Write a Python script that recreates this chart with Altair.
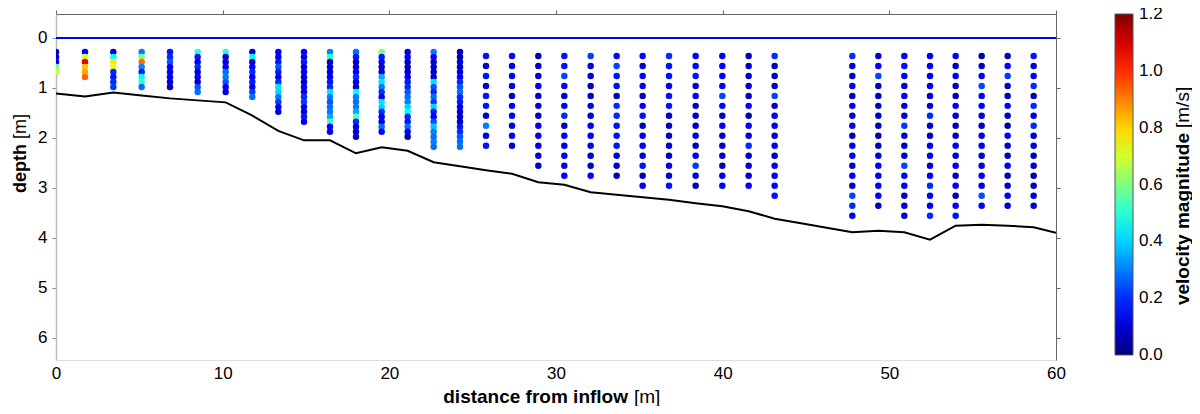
import altair as alt
import pandas as pd

# ---------------- data ----------------
# dense profiles (0.1 m vertical spacing, first bin at 0.28 m)
dense_x = [0.0, 1.74, 3.44, 5.14, 6.84, 8.5, 10.18, 11.78, 13.34, 14.88,
           16.44, 18.0, 19.54, 21.1, 22.66, 24.24]
dense_start, dense_step = 0.28, 0.1
dense_v = [
    [0.12, 0.10, 0.12, 0.60, 0.68],
    [0.15, 0.70, 1.08, 0.82, 0.85, 0.93],
    [0.08, 0.45, 0.78, 0.72, 0.20, 0.18, 0.20, 0.22],
    [0.30, 0.60, 0.92, 0.30, 0.18, 0.45, 0.50, 0.28],
    [0.18, 0.20, 0.25, 0.15, 0.12, 0.15, 0.10, 0.08],
    [0.50, 0.18, 0.12, 0.20, 0.10, 0.15, 0.08, 0.25, 0.28],
    [0.50, 0.12, 0.08, 0.15, 0.28, 0.30, 0.25, 0.15, 0.10],
    [0.10, 0.45, 0.08, 0.15, 0.20, 0.15, 0.18, 0.12, 0.22, 0.28],
    [0.15, 0.15, 0.18, 0.25, 0.18, 0.15, 0.20, 0.42, 0.40, 0.30, 0.22, 0.15, 0.10],
    [0.15, 0.12, 0.18, 0.10, 0.15, 0.12, 0.08, 0.15, 0.12, 0.20, 0.22, 0.15, 0.10, 0.18, 0.12],
    [0.30, 0.50, 0.08, 0.10, 0.10, 0.15, 0.18, 0.20, 0.42, 0.30, 0.25, 0.28, 0.30, 0.35, 0.52, 0.15, 0.12],
    [0.28, 0.18, 0.08, 0.10, 0.15, 0.20, 0.12, 0.10, 0.45, 0.30, 0.28, 0.30, 0.35, 0.55, 0.20, 0.15, 0.08, 0.10],
    [0.60, 0.18, 0.15, 0.10, 0.08, 0.35, 0.42, 0.30, 0.20, 0.15, 0.42, 0.40, 0.20, 0.15, 0.12, 0.28, 0.15],
    [0.10, 0.15, 0.08, 0.10, 0.08, 0.15, 0.18, 0.20, 0.25, 0.28, 0.30, 0.40, 0.45, 0.20, 0.18, 0.28, 0.15, 0.06],
    [0.30, 0.15, 0.08, 0.10, 0.08, 0.10, 0.42, 0.25, 0.20, 0.28, 0.22, 0.40, 0.18, 0.15, 0.25, 0.38, 0.30, 0.28, 0.30, 0.28],
    [0.08, 0.06, 0.10, 0.08, 0.10, 0.15, 0.20, 0.25, 0.28, 0.20, 0.18, 0.15, 0.10, 0.08, 0.10, 0.18, 0.20, 0.25, 0.28, 0.28],
]

# sparse profiles (0.2 m vertical spacing, first bin at 0.36 m)
sparse_x = [25.8, 27.36, 28.94, 30.5, 32.08, 33.64, 35.2, 36.78, 38.38, 39.98,
            41.56, 43.12, 47.78, 49.34, 50.9, 52.44, 53.98, 55.54, 57.1, 58.66]
sparse_start, sparse_step = 0.36, 0.2
sparse_v = [
    [0.17, 0.08, 0.17, 0.08, 0.17, 0.17, 0.08, 0.30, 0.12, 0.17],
    [0.15, 0.12, 0.15, 0.12, 0.08, 0.15, 0.15, 0.15, 0.13, 0.10],
    [0.07, 0.08, 0.10, 0.15, 0.08, 0.10, 0.08, 0.15, 0.13, 0.12, 0.10, 0.08],
    [0.17, 0.17, 0.23, 0.15, 0.10, 0.15, 0.20, 0.07, 0.15, 0.12, 0.15, 0.12, 0.15],
    [0.22, 0.10, 0.10, 0.07, 0.08, 0.10, 0.10, 0.15, 0.15, 0.12, 0.10, 0.10, 0.15],
    [0.15, 0.23, 0.17, 0.17, 0.07, 0.20, 0.20, 0.17, 0.17, 0.17, 0.10, 0.10, 0.06],
    [0.15, 0.08, 0.15, 0.15, 0.07, 0.15, 0.17, 0.07, 0.13, 0.15, 0.10, 0.17, 0.06, 0.15],
    [0.20, 0.17, 0.17, 0.15, 0.17, 0.17, 0.10, 0.08, 0.08, 0.10, 0.08, 0.12, 0.08, 0.17],
    [0.15, 0.15, 0.17, 0.10, 0.15, 0.08, 0.08, 0.08, 0.10, 0.05, 0.12, 0.22, 0.10, 0.07],
    [0.15, 0.15, 0.15, 0.15, 0.23, 0.15, 0.08, 0.15, 0.08, 0.08, 0.08, 0.07, 0.12, 0.15],
    [0.07, 0.08, 0.08, 0.10, 0.08, 0.15, 0.07, 0.15, 0.10, 0.20, 0.08, 0.12, 0.10, 0.15],
    [0.20, 0.07, 0.08, 0.08, 0.23, 0.07, 0.15, 0.15, 0.10, 0.15, 0.08, 0.15, 0.15, 0.15, 0.17],
    [0.20, 0.10, 0.07, 0.15, 0.08, 0.15, 0.10, 0.15, 0.08, 0.15, 0.15, 0.08, 0.15, 0.08, 0.23, 0.20, 0.12],
    [0.10, 0.15, 0.23, 0.07, 0.08, 0.08, 0.07, 0.08, 0.07, 0.08, 0.12, 0.15, 0.15, 0.15, 0.15, 0.07],
    [0.15, 0.17, 0.15, 0.10, 0.15, 0.10, 0.10, 0.22, 0.08, 0.07, 0.10, 0.23, 0.15, 0.15, 0.08, 0.12, 0.10],
    [0.15, 0.15, 0.15, 0.15, 0.10, 0.10, 0.20, 0.10, 0.08, 0.15, 0.15, 0.10, 0.15, 0.20, 0.15, 0.15, 0.20],
    [0.15, 0.08, 0.15, 0.08, 0.07, 0.15, 0.10, 0.07, 0.07, 0.15, 0.10, 0.15, 0.05, 0.15, 0.07, 0.15, 0.17],
    [0.07, 0.10, 0.15, 0.23, 0.15, 0.15, 0.10, 0.10, 0.12, 0.15, 0.10, 0.13, 0.15, 0.10, 0.24, 0.15],
    [0.07, 0.15, 0.22, 0.07, 0.08, 0.15, 0.08, 0.05, 0.15, 0.10, 0.07, 0.15, 0.07, 0.08, 0.15, 0.10],
    [0.17, 0.10, 0.15, 0.20, 0.07, 0.20, 0.10, 0.20, 0.10, 0.10, 0.07, 0.10, 0.06, 0.07, 0.10, 0.10],
]

# river bed
bed_x = [0, 1.74, 3.44, 5.14, 6.84, 8.5, 10.18, 11.7, 13.34, 14.88, 16.44, 18.0,
         19.54, 21.1, 22.66, 24.24, 25.8, 27.36, 28.94, 30.5, 32.08, 33.64, 35.2,
         36.78, 38.38, 39.98, 41.56, 43.12, 44.7, 46.24, 47.78, 49.34, 50.9, 52.44,
         53.98, 55.54, 57.1, 58.66, 60]
bed_d = [1.11, 1.17, 1.09, 1.15, 1.21, 1.25, 1.29, 1.54, 1.86, 2.05, 2.05, 2.31,
         2.19, 2.26, 2.49, 2.57, 2.65, 2.72, 2.89, 2.94, 3.09, 3.14, 3.19,
         3.24, 3.31, 3.37, 3.47, 3.62, 3.71, 3.80, 3.89, 3.86, 3.89, 4.04,
         3.76, 3.74, 3.76, 3.79, 3.90]

x_ticks = [0, 10, 20, 30, 40, 50, 60]
y_ticks = [0, 1, 2, 3, 4, 5, 6]
c_ticks = [0.0, 0.2, 0.4, 0.6, 0.8, 1.0, 1.2]

# jet colour map over 0 .. 1.2 m/s (ends nudged a hair so end labels stay centred)
jet_domain = [-0.0005, 0.15, 0.45, 0.75, 1.05, 1.2005]
jet_range = ["#000080", "#0000ff", "#00ffff", "#ffff00", "#ff0000", "#800000"]

# ---------------- tables ----------------
rows = []
for xs, vs in zip(dense_x, dense_v):
    for i, v in enumerate(vs):
        rows.append({"x": xs, "depth": round(dense_start + dense_step * i, 3), "v": v})
for xs, vs in zip(sparse_x, sparse_v):
    for i, v in enumerate(vs):
        rows.append({"x": xs, "depth": round(sparse_start + sparse_step * i, 3), "v": v})
pts = pd.DataFrame(rows)
bed = pd.DataFrame({"x": bed_x, "d": bed_d})
one = pd.DataFrame({"a": [0]})

FONT = "Liberation Sans"
xscale = alt.Scale(domain=[0, 60], nice=False, zero=False)
yscale = alt.Scale(domain=[-0.48, 6.45], reverse=True, nice=False, zero=False)

points = alt.Chart(pts).mark_circle(size=42, opacity=1, clip=True).encode(
    x=alt.X("x:Q", scale=xscale,
            axis=alt.Axis(orient="bottom", values=x_ticks, format="d", title=None,
                          domain=False, ticks=False, labelPadding=5,
                          labelFontSize=17, labelFont=FONT, labelColor="black",
                          labelFlush=False, grid=False)),
    y=alt.Y("depth:Q", scale=yscale,
            axis=alt.Axis(orient="left", values=y_ticks, format="d", title=None,
                          domainColor="#bbbbbb", domainWidth=1.5, tickColor="#888888",
                          tickSize=4, labelPadding=5, labelFontSize=17, labelFont=FONT,
                          labelColor="black", labelFlush=False, grid=False)),
    color=alt.Color("v:Q",
                    scale=alt.Scale(domain=jet_domain, range=jet_range, interpolate="rgb"),
                    legend=alt.Legend(orient="none", legendX=1059, legendY=0,
                                      direction="vertical", title=None,
                                      gradientLength=341, gradientThickness=18,
                                      gradientStrokeColor="#555555", gradientStrokeWidth=1,
                                      values=c_ticks, format=".1f", labelFontSize=17,
                                      labelFont=FONT, labelColor="black", labelOffset=6,
                                      labelOverlap=False)),
)

bedline = alt.Chart(bed).mark_line(color="black", strokeWidth=2, clip=True).encode(
    x=alt.X("x:Q", scale=xscale,
            axis=alt.Axis(orient="top", values=x_ticks, labels=False, title=None,
                          domainColor="#666666", tickColor="#666666", tickSize=4, grid=False)),
    y=alt.Y("d:Q", scale=yscale,
            axis=alt.Axis(orient="right", values=y_ticks, labels=False, title=None,
                          domainColor="#666666", tickColor="#666666", tickSize=4, grid=False)),
    order="x:Q",
)

surface = alt.Chart(one).mark_rule(color="#0000ff", strokeWidth=2).encode(
    y=alt.datum(0, scale=yscale, axis=None)
)

def label(text, x, y, align, bold, angle=0, size=19):
    kw = dict(text=text, align=align, baseline="alphabetic", font=FONT,
              fontSize=size, color="black", fontWeight="bold" if bold else "normal")
    if angle:
        kw["angle"] = angle
    return alt.Chart(one).mark_text(**kw).encode(x=alt.value(x), y=alt.value(y))

titles = [
    label("distance from inflow", 572, 389, "right", True),
    label("[m]", 578, 389, "left", False),
    label("depth", -30, 130, "right", True, 270, 18),
    label("[m]", -30, 125, "left", False, 270, 18),
    label("velocity magnitude", 1133, 119, "right", True, 270),
    label("[m/s]", 1133, 114, "left", False, 270),
]

chart = alt.layer(points, bedline, surface, *titles).properties(
    width=1000, height=346,
    autosize=alt.AutoSizeParams(type="none"),
    padding={"left": 48, "top": 6, "right": 136, "bottom": 46},
).configure_view(stroke=None).configure(background="white")

chart.save("out.html", embed_options={"renderer": "svg", "actions": False})
